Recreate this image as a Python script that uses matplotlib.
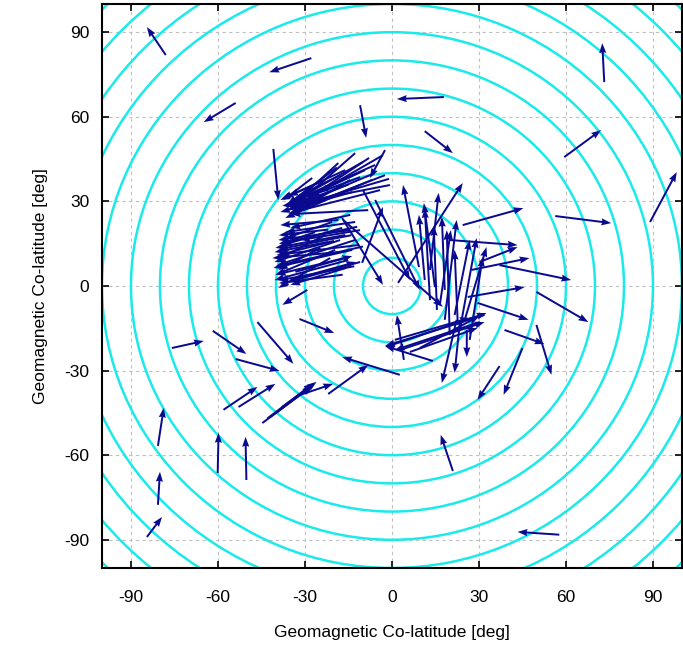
# Convection vectors over geomagnetic co-latitude rings

import numpy as np
import matplotlib.pyplot as plt
from matplotlib.patches import Circle

plt.rcParams['font.family'] = ['Liberation Sans', 'DejaVu Sans']
plt.rcParams['axes.unicode_minus'] = False

# =========================================

# Data (deg): arrow tails and vector components

x_tail = [
    -78.0, -27.8, -53.9, -11.0, -40.9, 73.2, 17.9, 11.3, 59.4, 89.0,
    56.3, 24.4, 37.1, 26.1, 49.8, 29.5, 38.8, 49.8, 45.0, 37.1,
    21.0, 57.7, -46.4, -61.8, -31.9, -75.9, -53.9, -58.1, -52.9, -44.7,
    -43.0, -42.0, -40.0, -38.0, -22.0, -31.6, -60.1, -50.2, -80.7, -80.7,
    -84.5, 2.7, -29.2,
    # central-right group
    9.3, 13.1, 2.1, 14.8, 18.2, 23.4, 25.1, 16.5, 21.6, 13.1,
    18.2, 19.9, 26.8, 22.7, 11.3, 15.5, 19.9, 30.2, 27.5, -16.8,
    -5.8, -17.2, -10.0, -10.3, 31.9, 30.2, 14.1, 0.0, 2.7, 6.2,
    1.0, 9.6, 22.3, 23.4, 25.8, 4.1,
    # left group, upper part
    -18.5, -12.7, -3.1, -7.9, -27.5, -2.4, -6.9, -11.0, -14.4, -4.1,
    -8.2, -17.9, -16.1, -5.8, -0.7, -21.3, -11.0, -13.7, -9.3, -23.0,
    -2.4, -10.0, -6.0, -15.0, -1.0, -19.0,
    # left group, lower part
    -12.7, -14.4, -16.1, -11.7, -17.9, -13.7, -19.6, -15.1, -21.3, -11.0,
    -17.2, -23.0, -18.5, -14.4, -20.6, -24.7, -12.7, -15.8, -18.5, -22.0,
    -26.5, -11.0, -35.0, -33.3, -14.0, -16.0, -12.0, -20.0, -13.0, -17.0,
    -10.0, -22.0,
]
y_tail = [
    81.9, 80.8, 64.9, 64.1, 48.6, 72.3, 67.0, 54.9, 45.7, 22.7,
    24.8, 21.6, 7.4, -3.9, -2.1, -6.0, -15.6, -13.8, -22.0, -28.4,
    -65.6, -88.2, -12.8, -15.9, -11.7, -22.0, -25.9, -43.9, -42.9, -48.6,
    -47.0, -46.5, -45.0, -43.0, -38.3, -38.6, -66.3, -68.8, -56.7, -77.6,
    -89.0, -31.5, -1.4,
    6.7, 5.7, 1.1, -0.4, -12.0, -15.6, -12.0, -6.7, -10.3, -5.0,
    -1.4, -17.4, -19.1, -13.8, 2.1, -8.5, 16.3, 8.5, 5.7, 23.4,
    30.5, 24.1, 34.0, 8.2, -10.3, -12.8, -26.6, -20.9, -22.7, -23.4,
    -19.1, -22.0, -12.0, -13.1, -15.6, -26.2,
    43.6, 47.1, 46.4, 45.4, 38.3, 39.3, 37.6, 35.8, 37.6, 34.0,
    26.9, 39.3, 41.1, 42.9, 35.8, 35.8, 38.6, 33.3, 41.1, 37.6,
    48.2, 44.0, 40.0, 36.0, 38.0, 42.0,
    22.7, 19.8, 18.1, 14.5, 16.3, 12.8, 12.8, 9.2, 9.9, 8.5,
    20.6, 18.1, 12.0, 25.2, 22.7, 13.5, 16.3, 6.4, 23.4, 15.6,
    19.1, 19.8, 2.1, 5.0, 18.0, 10.0, 21.0, 16.0, 7.0, 4.0,
    14.0, 20.0,
]
u_comp = [
    -6.5, -14.5, -11.0, 2.1, 1.7, -0.7, -16.2, 9.7, 12.7, 9.2,
    19.3, 20.9, 24.7, 19.6, 17.9, 17.6, 13.8, 5.2, -6.5, -7.6,
    -4.2, -14.4, 12.4, 11.6, 12.0, 11.0, 15.1, 11.7, 12.7, 17.6,
    16.0, 14.5, 13.0, 12.0, 13.8, 11.3, 0.3, -0.3, 2.0, 0.7,
    5.2, -19.9, -8.6,
    -5.5, 3.0, 22.3, -3.8, 4.1, 5.8, 7.5, 3.8, 5.2, -1.8,
    -1.0, -1.0, 4.5, -1.1, -2.0, -1.1, 23.4, 13.1, 19.9, 34.3,
    15.4, 14.1, 16.2, 7.2, -34.3, -29.2, -16.5, 32.6, 29.2, 23.3,
    25.8, 20.6, -5.1, -1.8, 0.0, -2.4,
    -15.9, -19.6, -26.8, -27.1, -9.9, -29.2, -28.8, -25.8, -18.9, -30.9,
    -26.8, -13.7, -22.4, -27.5, -37.1, -15.5, -17.2, -24.8, -16.1, -12.7,
    -5.2, -24.0, -30.0, -21.0, -33.0, -17.0,
    -24.1, -24.8, -24.1, -28.1, -22.6, -27.2, -20.6, -25.4, -17.9, -24.7,
    -20.6, -15.5, -22.7, -20.6, -15.8, -14.5, -26.8, -19.2, -20.0, -18.5,
    -12.0, -20.6, 22.6, 19.6, -25.0, -24.0, -27.0, -19.0, -26.0, -22.0,
    -30.0, -17.0,
]
v_comp = [
    9.9, -5.0, -6.8, -11.6, -18.1, 13.8, -0.7, -7.8, 9.6, 17.7,
    -2.5, 6.0, -5.3, 3.5, -10.7, -6.0, -5.0, -17.7, -16.6, -12.0,
    12.8, 1.0, -14.8, -8.2, -5.0, 2.5, -4.2, 8.1, 8.2, 13.5,
    12.5, 11.0, 10.5, 9.0, 10.3, 3.9, 14.2, 15.3, 13.5, 11.7,
    7.1, 6.3, -5.3,
    29.1, 27.3, 35.4, 29.8, 35.4, 32.6, 25.8, 26.5, 26.6, 32.6,
    25.9, 37.2, 29.4, 26.6, 23.1, 29.8, -1.8, 5.3, 4.2, -30.8,
    -31.9, -23.7, -31.9, 19.8, -11.0, -9.9, 5.3, 11.3, 9.9, 8.5,
    7.8, 11.4, -22.4, -17.7, -9.6, 15.9,
    -14.9, -17.7, -15.9, -18.5, -7.8, -11.7, -12.1, -11.7, -11.4, -8.1,
    -1.4, -7.0, -10.6, -12.4, -7.4, -7.8, -6.7, -7.1, -7.8, -5.7,
    -9.9, -14.0, -13.0, -8.0, -10.0, -13.0,
    -3.6, -3.5, -4.6, -3.5, -7.8, -6.4, -8.9, -7.1, -10.6, -7.1,
    -6.1, -8.2, -2.1, -4.6, -5.7, -7.8, -8.9, -6.0, -1.8, -3.6,
    -4.2, -3.5, 6.4, 5.6, -5.0, -6.0, -6.0, -5.0, -5.0, -3.0,
    -7.0, -2.0,
]

ring_radii = np.arange(10, 150, 10)
ticks = [-90, -60, -30, 0, 30, 60, 90]

# =========================================

# Plot Chart

fig = plt.figure(figsize=(6.83, 6.53), dpi=100)
ax = fig.add_axes([0.1493, 0.1302, 0.8492, 0.8637])

for r in ring_radii:
    ax.add_patch(Circle((0, 0), r, fill=False, edgecolor='#1aeaea', linewidth=1.8, zorder=2))

ax.quiver(x_tail, y_tail, u_comp, v_comp, angles='xy', scale_units='xy', scale=1,
          color='#0a0a90', width=0.0034, headwidth=3.6, headlength=5, headaxislength=4.6,
          zorder=3)

ax.set_xlim(-100, 100)
ax.set_ylim(-100, 100)
ax.set_xticks(ticks)
ax.set_yticks(ticks)
ax.grid(True, color='#c0c0c0', linestyle=(0, (3, 3)), linewidth=0.8, zorder=1)
ax.set_axisbelow(True)

ax.tick_params(direction='in', top=True, right=True, length=5, width=1.2, labelsize=12.5)
ax.tick_params(axis='x', pad=16)
ax.tick_params(axis='y', pad=9)
for s in ax.spines.values():
    s.set_linewidth(1.5)

ax.set_xlabel('Geomagnetic Co-latitude [deg]', fontsize=12.5, labelpad=14)
ax.set_ylabel('Geomagnetic Co-latitude [deg]', fontsize=12.5, labelpad=12)

plt.savefig('out.png', dpi=100)
